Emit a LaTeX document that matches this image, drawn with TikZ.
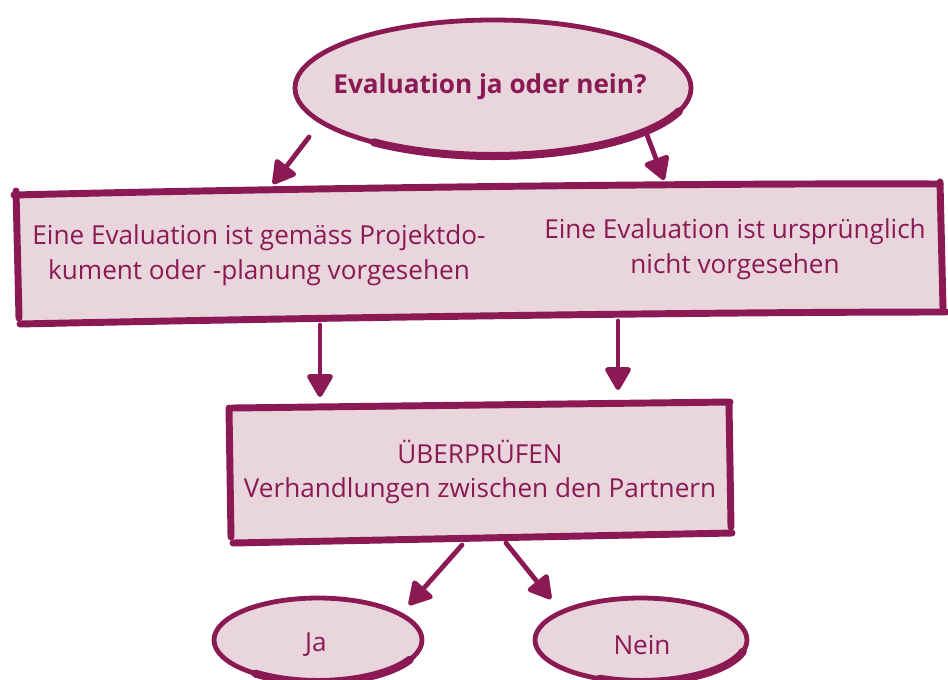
\documentclass[tikz,border=0pt]{standalone}
\usepackage{fontspec}
\setmainfont{Open Sans}
\usetikzlibrary{arrows.meta}
\definecolor{evalrot}{RGB}{139,25,84}
\definecolor{evalrosa}{RGB}{233,213,220}
\tikzset{every picture/.style={line width=0.75pt}}

\begin{document}
\begin{tikzpicture}[x=0.75pt,y=0.75pt,yscale=-1,xscale=1,
  strich/.style={draw=evalrot,line width=5.2pt,line cap=round},
  rand/.style={draw=evalrot,line width=3.6pt},
  txt/.style={text=evalrot,font=\fontsize{19.6}{26}\selectfont,align=center,inner sep=0.75pt},
  pfeil/.style={draw=evalrot,line width=3.6pt,line cap=round,-{Triangle[length=19pt,width=21pt,round]}}]
\useasboundingbox (0,0) rectangle (948,679);

%Shape: Ellipse [frage]
\fill[evalrosa] (493,88) ellipse [x radius=198, y radius=68];
\draw[rand] (493,88) ellipse [x radius=198, y radius=68];
\draw[strich,line width=6pt] (493,88) ++(127:198 and 68) arc [start angle=127, end angle=20, x radius=198, y radius=68];

%Shape: Rectangle [zwei Faelle]
\fill[evalrosa] (16,193) -- (940,185) -- (943,311) -- (19,323) -- cycle;
\draw[strich] (14,195) .. controls (300,188) and (700,183) .. (940,184);
\draw[strich] (16,191) -- (19,318);
\draw[strich] (940,182) -- (943,308);
\draw[strich] (20,324) .. controls (300,318) and (700,312) .. (946,312);

%Shape: Rectangle [pruefen]
\fill[evalrosa] (231,407) -- (729,403) -- (731,533) -- (233,540) -- cycle;
\draw[strich] (232,408) -- (730,402);
\draw[strich] (229,408) -- (231,537);
\draw[strich] (729,404) -- (731,527);
\draw[strich] (233,543) -- (732,533);

%Shape: Ellipse [ja]
\fill[evalrosa] (318,640) ellipse [x radius=104, y radius=42];
\draw[rand] (318,640) ellipse [x radius=104, y radius=42];
\draw[strich,line width=6pt] (318,640) ++(127:104 and 42) arc [start angle=127, end angle=28, x radius=104, y radius=42];

%Shape: Ellipse [nein]
\fill[evalrosa] (641,640) ellipse [x radius=106, y radius=42];
\draw[rand] (641,640) ellipse [x radius=106, y radius=42];
\draw[strich,line width=6pt] (641,640) ++(113:106 and 42) arc [start angle=113, end angle=16, x radius=106, y radius=42];

% Text Node
\node[txt,font=\bfseries\fontsize{19.6}{26}\selectfont] (frage) at (490,87) {Evaluation ja oder nein?};
% Text Node
\node[txt] (vorgesehen) at (259,255) {Eine Evaluation ist gemäss Projektdo-\\kument oder -planung vorgesehen};
% Text Node
\node[txt] (nichtvorgesehen) at (735,249) {Eine Evaluation ist ursprünglich\\nicht vorgesehen};
% Text Node
\node[txt] (pruefen) at (480,472) {ÜBERPRÜFEN\\Verhandlungen zwischen den Partnern};
% Text Node
\node[txt] (ja) at (316,645) {Ja};
% Text Node
\node[txt] (nein) at (642,645) {Nein};

% Arrow ends
\coordinate (f1) at (309,137);
\coordinate (v1) at (273,184);
\coordinate (f2) at (647,135);
\coordinate (n1) at (664,180);
\coordinate (v2) at (320,325);
\coordinate (p1) at (320,397);
\coordinate (n2) at (618,321);
\coordinate (p2) at (618,390);
\coordinate (p3) at (462,545);
\coordinate (j1) at (409,605);
\coordinate (p4) at (506,543);
\coordinate (e1) at (551,599);

% Connection
\draw[pfeil] (f1) -- (v1);
% Connection
\draw[pfeil] (f2) -- (n1);
% Connection
\draw[pfeil] (v2) -- (p1);
% Connection
\draw[pfeil] (n2) -- (p2);
% Connection
\draw[pfeil] (p3) -- (j1);
% Connection
\draw[pfeil] (p4) -- (e1);

\end{tikzpicture}
\end{document}
